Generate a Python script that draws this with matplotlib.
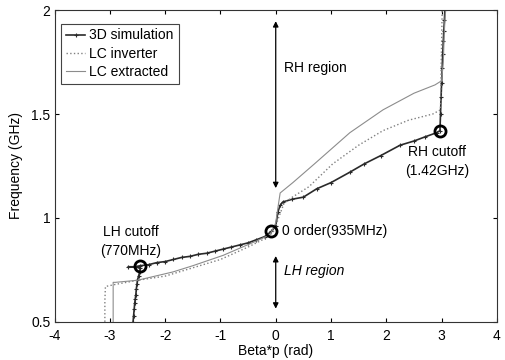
import matplotlib
matplotlib.use("Agg")
import matplotlib.pyplot as plt

plt.rcParams['font.family'] = ['Liberation Sans', 'DejaVu Sans']
plt.rcParams['axes.unicode_minus'] = False

# 3D simulation
sim_beta = [-2.58, -2.57, -2.56, -2.55, -2.54, -2.53, -2.52, -2.51, -2.50, -2.48, -2.46, -2.45,
            -2.67, -2.55, -2.45, -2.3, -2.15, -2.0, -1.85, -1.7, -1.55, -1.4, -1.25, -1.1,
            -0.95, -0.8, -0.65, -0.5, -0.35, -0.2, -0.08, 0.0, 0.04, 0.08, 0.13, 0.3, 0.5,
            0.74, 1.0, 1.34, 1.6, 1.9, 2.25, 2.5, 2.7, 2.91, 2.97,
            2.98, 2.99, 3.0, 3.01, 3.02, 3.03, 3.04, 3.05, 3.06]
sim_freq = [0.50, 0.53, 0.56, 0.59, 0.61, 0.63, 0.66, 0.68, 0.70, 0.72, 0.74, 0.76,
            0.765, 0.765, 0.77, 0.775, 0.785, 0.79, 0.80, 0.81, 0.815, 0.825, 0.83, 0.84,
            0.85, 0.86, 0.87, 0.88, 0.895, 0.91, 0.935, 0.96, 1.03, 1.06, 1.077, 1.09, 1.10,
            1.14, 1.17, 1.22, 1.26, 1.30, 1.35, 1.37, 1.39, 1.41, 1.42,
            1.50, 1.58, 1.65, 1.72, 1.79, 1.85, 1.90, 1.95, 2.0]

# LC inverter
inv_beta = [-3.09, -3.09, -3.08, -2.9, -2.5, -2.0, -1.5, -1.0, -0.5, -0.2, -0.05, 0.0, 0.05,
            0.15, 0.3, 0.6, 1.03, 1.5, 1.94, 2.4, 2.84, 2.98, 2.99, 3.0, 3.01]
inv_freq = [0.50, 0.60, 0.67, 0.68, 0.70, 0.72, 0.76, 0.80, 0.86, 0.90, 0.93, 0.96, 1.00,
            1.07, 1.10, 1.15, 1.26, 1.35, 1.42, 1.47, 1.50, 1.52, 1.70, 1.85, 2.0]

# LC extracted
ext_beta = [-2.94, -2.94, -2.9, -2.5, -1.86, -1.5, -0.95, -0.34, -0.1, 0.0, 0.04, 0.08, 0.31,
            0.7, 1.34, 1.94, 2.5, 2.88, 3.0, 3.03, 3.05, 3.07]
ext_freq = [0.50, 0.69, 0.69, 0.70, 0.74, 0.77, 0.82, 0.89, 0.92, 0.976, 1.05, 1.12, 1.17,
            1.26, 1.41, 1.52, 1.60, 1.64, 1.66, 1.75, 1.90, 2.0]

# highlighted points
pt_beta = [-2.45, -0.08, 2.97]
pt_freq = [0.77, 0.935, 1.42]

xticks = [-4, -3, -2, -1, 0, 1, 2, 3, 4]
yticks = [0.5, 1, 1.5, 2]
ytick_labels = ['0.5', '1', '1.5', '2']

fig = plt.figure(figsize=(5.05, 3.6), dpi=100)
ax = fig.add_axes([0.108, 0.106, 0.876, 0.866])

ax.plot(sim_beta, sim_freq, color='#2a2a2a', lw=1.2, marker='+', ms=3.5, mew=0.8,
        label='3D simulation')
ax.plot(inv_beta, inv_freq, color='#808080', lw=1.0, ls=':', label='LC inverter')
ax.plot(ext_beta, ext_freq, color='#8c8c8c', lw=0.8, ls='-', label='LC extracted')
ax.plot(pt_beta, pt_freq, ls='none', marker='o', ms=8, mfc='none', mec='black', mew=2)

ax.annotate('', xy=(0, 1.96), xytext=(0, 1.13),
            arrowprops=dict(arrowstyle='<|-|>', color='black', lw=0.9, mutation_scale=8))
ax.annotate('', xy=(0, 0.83), xytext=(0, 0.55),
            arrowprops=dict(arrowstyle='<|-|>', color='black', lw=0.9, mutation_scale=8))

fs = 10
ax.text(0.15, 1.72, 'RH region', fontsize=fs, va='center', ha='left')
ax.text(0.15, 0.745, 'LH region', fontsize=fs, va='center', ha='left', style='italic')
ax.text(0.12, 0.935, '0 order(935MHz)', fontsize=fs, va='center', ha='left')
ax.text(-2.62, 0.885, 'LH cutoff\n(770MHz)', fontsize=fs, va='center', ha='center',
        linespacing=1.45)
ax.text(2.92, 1.27, 'RH cutoff\n(1.42GHz)', fontsize=fs, va='center', ha='center',
        linespacing=1.45)

ax.set_xlim(-4, 4)
ax.set_ylim(0.5, 2)
ax.set_xticks(xticks)
ax.set_yticks(yticks)
ax.set_yticklabels(ytick_labels)
ax.tick_params(direction='in', top=True, right=True, labelsize=fs, length=3)
ax.tick_params(axis='x', pad=5)
ax.tick_params(axis='y', pad=3)
ax.set_xlabel('Beta*p (rad)', fontsize=fs, labelpad=1)
ax.set_ylabel('Frequency (GHz)', fontsize=fs, labelpad=6)
for s in ax.spines.values():
    s.set_linewidth(0.8)
    s.set_color('#333333')

leg = ax.legend(loc='upper left', fontsize=fs, handlelength=1.4, handletextpad=0.3,
                borderpad=0.35, labelspacing=0.3, fancybox=False, framealpha=1,
                edgecolor='#444444', bbox_to_anchor=(0.005, 0.97), borderaxespad=0.3)
leg.get_frame().set_linewidth(0.8)

fig.savefig('out.png', dpi=100)
